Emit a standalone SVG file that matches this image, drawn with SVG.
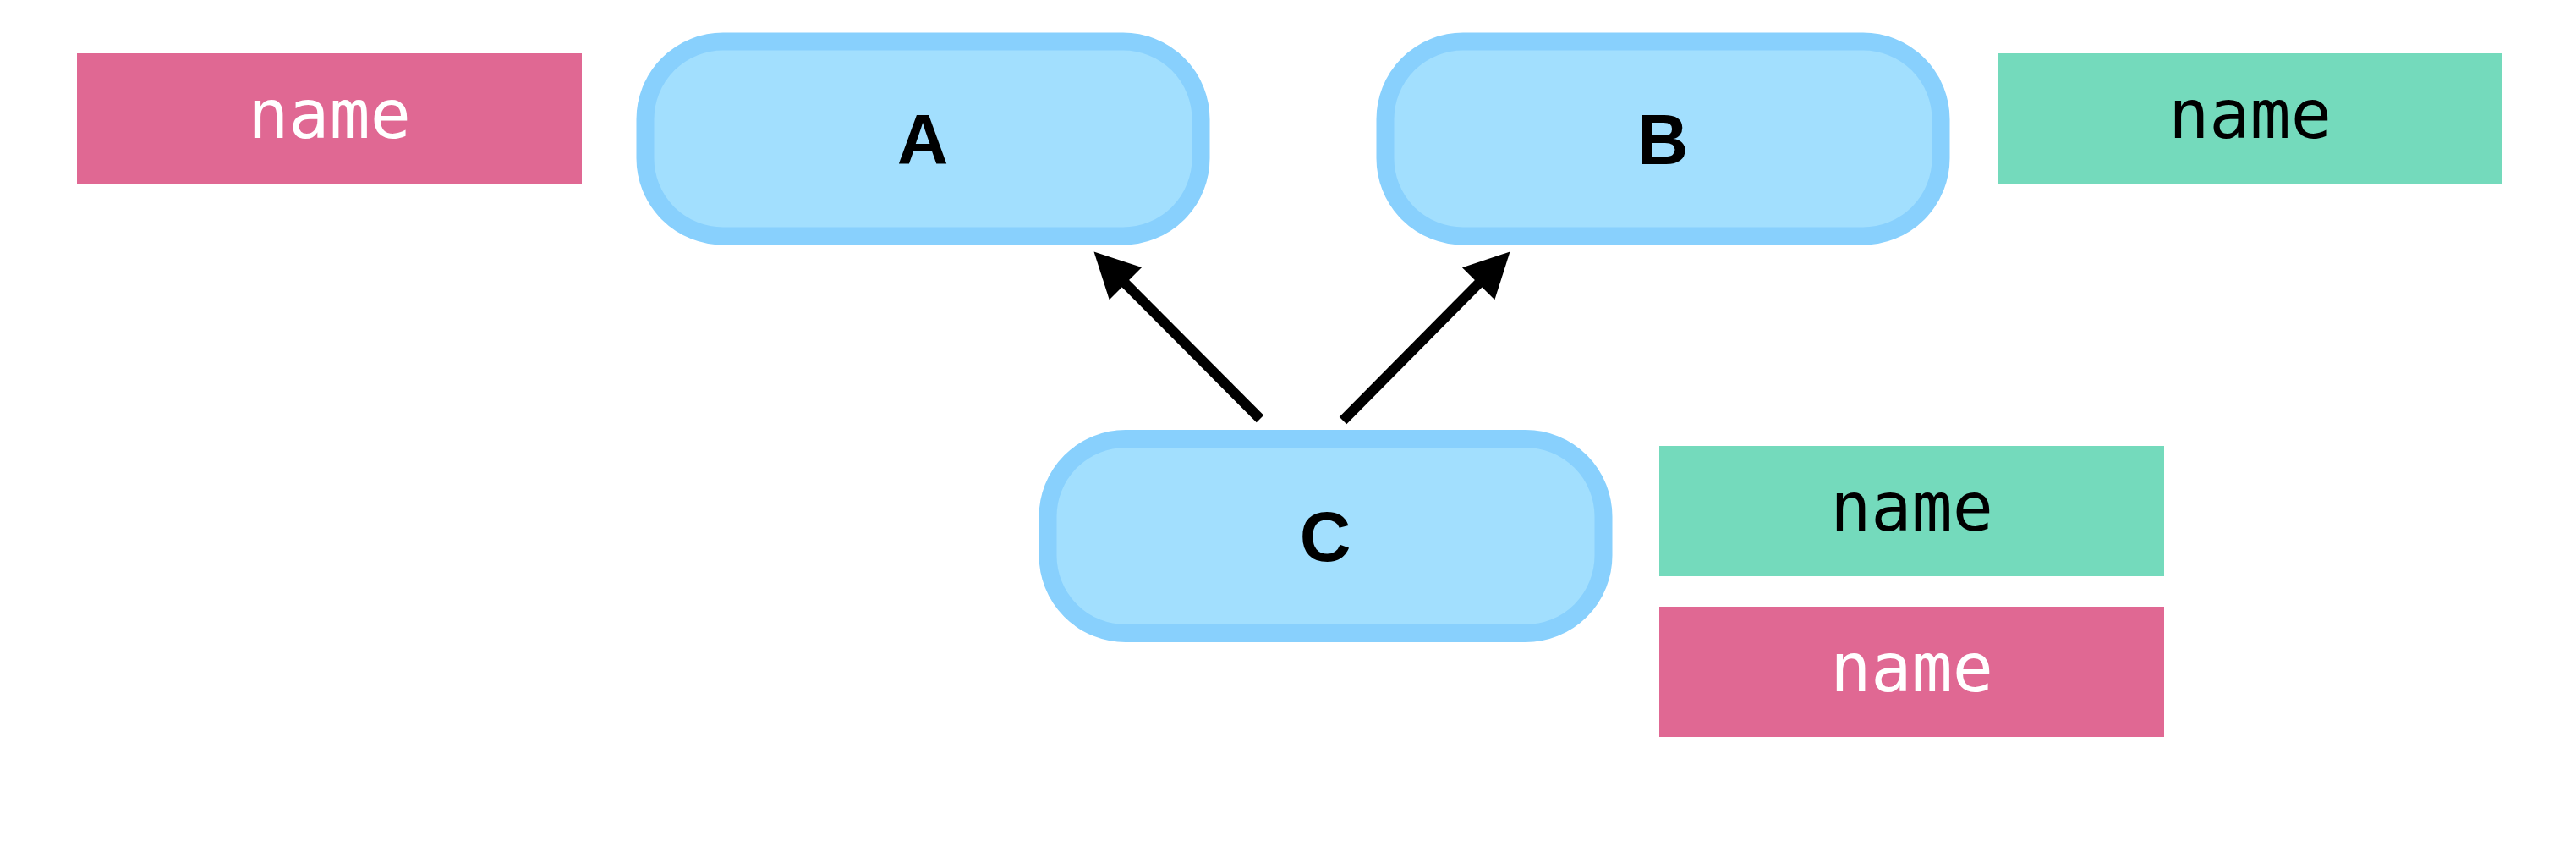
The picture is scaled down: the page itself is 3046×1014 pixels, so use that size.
<svg xmlns="http://www.w3.org/2000/svg" width="3046" height="1014" viewBox="0 0 3046 1014">
<style>
.node{fill:#A2DFFE;stroke:#88D0FD;stroke-width:21}
.lbl{font-family:"Liberation Sans",Arial,sans-serif;font-weight:bold;font-size:84px;fill:#000;text-anchor:middle}
.tag{font-family:"DejaVu Sans Mono","Liberation Mono",monospace;font-size:80px;text-anchor:middle}
.pink{fill:#E06893}
.green{fill:#74DABC}
.edge{stroke:#000;stroke-width:12;fill:none}
</style>
<defs>
<marker id="arrow" markerUnits="userSpaceOnUse" orient="auto" refX="1" refY="0" markerWidth="60" markerHeight="60" overflow="visible">
<path d="M0,-27 L53,0 L0,27 Z" fill="#000"/>
</marker>
</defs>
<rect width="3046" height="1014" fill="#fff"/>
<g id="tag-a">
<rect class="pink" x="91" y="63" width="597" height="154"/>
<text class="tag" x="389.5" y="163" fill="#fff">name</text>
</g>
<g id="tag-b">
<rect class="green" x="2362" y="63" width="597" height="154"/>
<text class="tag" x="2660.5" y="163" fill="#000">name</text>
</g>
<g id="tag-c1">
<rect class="green" x="1962" y="527" width="597" height="154"/>
<text class="tag" x="2260.5" y="627" fill="#000">name</text>
</g>
<g id="tag-c2">
<rect class="pink" x="1962" y="717" width="597" height="154"/>
<text class="tag" x="2260.5" y="817" fill="#fff">name</text>
</g>
<g id="node-a">
<rect class="node" x="763" y="49" width="657" height="230" rx="92" ry="92"/>
<text class="lbl" x="1091" y="194">A</text>
</g>
<g id="node-b">
<rect class="node" x="1638" y="49" width="657" height="230" rx="92" ry="92"/>
<text class="lbl" x="1966" y="194">B</text>
</g>
<g id="node-c">
<rect class="node" x="1239" y="518.5" width="657" height="230" rx="92" ry="92"/>
<text class="lbl" x="1567" y="663">C</text>
</g>
<g id="connectors">
<line class="edge" x1="1490" y1="495" x2="1330.2" y2="334.4" marker-end="url(#arrow)"/>
<line class="edge" x1="1588" y1="497" x2="1748.9" y2="334.5" marker-end="url(#arrow)"/>
</g>
</svg>
